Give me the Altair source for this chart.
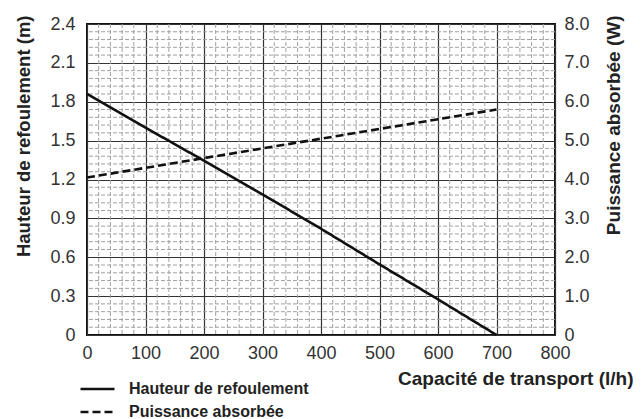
import altair as alt
import pandas as pd

# ---- data ----
x_flow = [0, 100, 200, 300, 400, 500, 600, 700]
hauteur = [1.86, 1.60, 1.345, 1.085, 0.82, 0.545, 0.275, 0.0]
x_power = [0, 700]
puissance = [4.05, 5.8]

x_major = [0, 100, 200, 300, 400, 500, 600, 700, 800]
y_left_major = [0, 0.3, 0.6, 0.9, 1.2, 1.5, 1.8, 2.1, 2.4]
y_right_major = [0, 1, 2, 3, 4, 5, 6, 7, 8]
x_minor = [v for v in range(0, 801, 20) if v % 100]
y_minor = [round(i * 0.06, 2) for i in range(41) if i % 5]

S1 = "Hauteur de refoulement"
S2 = "Puissance absorbée"

df_h = pd.DataFrame({"x": x_flow, "v": hauteur, "serie": S1})
df_p = pd.DataFrame({"x": x_power, "v": puissance, "serie": S2})
df_xminor = pd.DataFrame({"x": x_minor})
df_yminor = pd.DataFrame({"y": y_minor})

FONT = "Liberation Sans, Arial, sans-serif"
LBL = "datum.value == 0 ? '0' : format(datum.value, '.1f')"

x_scale = alt.Scale(domain=[0, 800], nice=False, zero=False)
yl_scale = alt.Scale(domain=[0, 2.4], nice=False)
yr_scale = alt.Scale(domain=[0, 8], nice=False)

x_axis = alt.Axis(
    values=x_major, grid=True, gridColor="#333333", gridWidth=1.2,
    domain=False, ticks=False, labelFlush=False, labelOverlap=False,
    labelFont=FONT, labelFontSize=18, labelColor="#333333", labelPadding=9,
    title="Capacité de transport (l/h)", titleFont=FONT, titleFontSize=19,
    titleFontWeight="bold", titleColor="#222222",
    titleX=546, titleY=49, titleAlign="right", titleBaseline="alphabetic",
)
yl_axis = alt.Axis(
    values=y_left_major, labelExpr=LBL, grid=True, gridColor="#333333", gridWidth=1.2,
    domain=False, ticks=False, labelFlush=False, labelOverlap=False,
    labelFont=FONT, labelFontSize=18, labelColor="#333333", labelPadding=12,
    title="Hauteur de refoulement (m)", titleFont=FONT, titleFontSize=18.5,
    titleFontWeight="bold", titleColor="#222222", titleAngle=270,
    titleX=-57.5, titleY=-9, titleAlign="right", titleBaseline="alphabetic",
)
yr_axis = alt.Axis(
    orient="right", values=y_right_major, labelExpr=LBL, grid=False,
    domain=False, ticks=False, labelFlush=False, labelOverlap=False,
    labelFont=FONT, labelFontSize=18, labelColor="#333333", labelPadding=9,
    title="Puissance absorbée (W)", titleFont=FONT, titleFontSize=19,
    titleFontWeight="bold", titleColor="#222222", titleAngle=270,
    titleX=64, titleY=-9, titleAlign="right", titleBaseline="alphabetic",
)

legend = alt.Legend(
    title=None, orient="none", legendX=-8, legendY=357, padding=0,
    symbolType="stroke", symbolSize=1156, symbolStrokeWidth=2.5,
    symbolStrokeColor="#111111", clipHeight=16,
    labelFont=FONT, labelFontSize=16, labelFontWeight="bold", labelColor="#222222",
    labelOffset=13, rowPadding=7, labelLimit=400,
)
color = alt.Color("serie:N", scale=alt.Scale(domain=[S1, S2], range=["#111111", "#111111"]),
                  legend=legend)
dash = alt.StrokeDash("serie:N", scale=alt.Scale(domain=[S1, S2], range=[[1, 0], [8, 4]]),
                      legend=legend)

minor_v = alt.Chart(df_xminor).mark_rule(color="#a0a0a0", strokeWidth=1, strokeDash=[4, 2]).encode(
    x=alt.X("x:Q", scale=x_scale, axis=x_axis)
)
minor_h = alt.Chart(df_yminor).mark_rule(color="#a0a0a0", strokeWidth=1, strokeDash=[4, 2]).encode(
    y=alt.Y("y:Q", scale=yl_scale, axis=yl_axis)
)
h_line = alt.Chart(df_h).mark_line(strokeWidth=2.6).encode(
    x=alt.X("x:Q", scale=x_scale, axis=x_axis),
    y=alt.Y("v:Q", scale=yl_scale, axis=yl_axis),
    color=color, strokeDash=dash,
)
p_line = alt.Chart(df_p).mark_line(strokeWidth=2.6).encode(
    x=alt.X("x:Q", scale=x_scale, axis=x_axis),
    y=alt.Y("v:Q", scale=yr_scale, axis=yr_axis),
    color=color, strokeDash=dash,
)

left = alt.layer(minor_v, minor_h, h_line)
chart = (
    alt.layer(left, p_line)
    .resolve_scale(y="independent")
    .properties(
        width=468, height=311,
        padding={"left": 79, "top": 16, "right": 78, "bottom": 84},
        autosize=alt.AutoSizeParams(type="none"),
        background="white",
    )
    .configure_view(stroke="#111111", strokeWidth=2)
)

chart.save("out.html", embed_options={"renderer": "svg", "actions": False})
